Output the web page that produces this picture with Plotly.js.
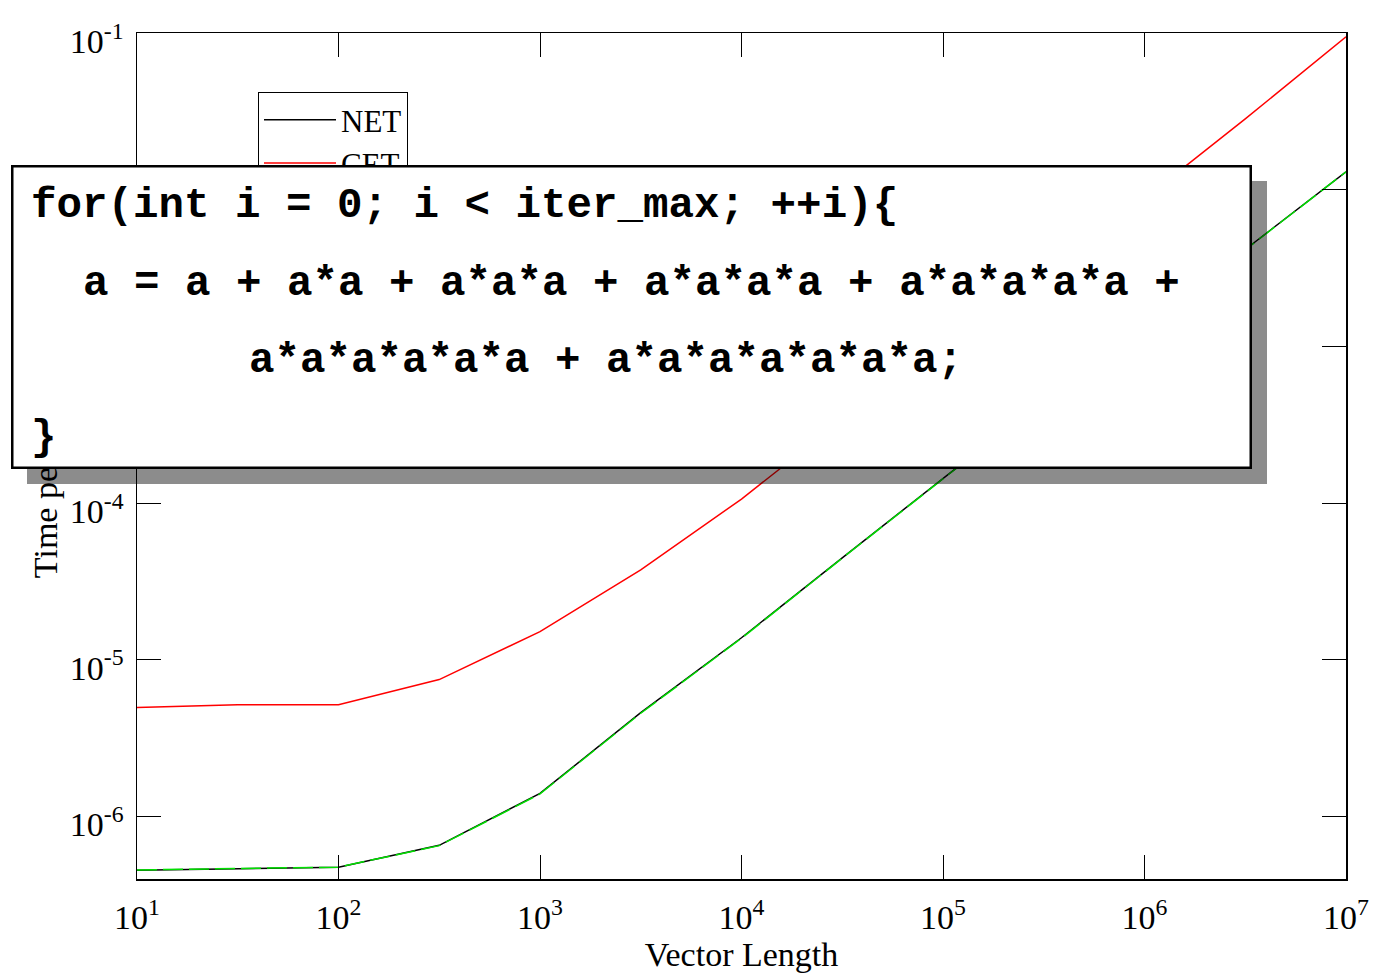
<!DOCTYPE html>
<html>
<head>
<meta charset="utf-8">
<script src="https://cdn.plot.ly/plotly-3.0.1.min.js"></script>
<style>
html,body{margin:0;padding:0;background:#fff;}
#chart{width:1383px;height:980px;}
</style>
</head>
<body>
<div id="chart"></div>
<script>
// ---- data ----
const vectorLength = [10, 31.6, 100, 316, 1000, 3162, 10000, 31623, 100000, 316228, 1000000, 3162278, 10000000];
const netTime = [4.53e-7, 4.62e-7, 4.73e-7, 6.53e-7, 1.40e-6, 4.59e-6, 1.38e-5, 4.47e-5, 1.44e-4, 4.59e-4, 1.40e-3, 4.15e-3, 1.30e-2];
const cetTime = [4.95e-6, 5.16e-6, 5.16e-6, 7.46e-6, 1.51e-5, 3.74e-5, 1.06e-4, 3.40e-4, 1.06e-3, 3.09e-3, 8.77e-3, 2.83e-2, 9.45e-2];
const thirdTime = [4.55e-7, 4.63e-7, 4.74e-7, 6.50e-7, 1.39e-6, 4.55e-6, 1.37e-5, 4.45e-5, 1.43e-4, 4.57e-4, 1.39e-3, 4.13e-3, 1.30e-2];
const seriesNames = ["NET", "CET", "C"];
const xTickVals = [1e1, 1e2, 1e3, 1e4, 1e5, 1e6, 1e7];
const xTickText = ["10<sup>1</sup>", "10<sup>2</sup>", "10<sup>3</sup>", "10<sup>4</sup>", "10<sup>5</sup>", "10<sup>6</sup>", "10<sup>7</sup>"];
const yTickVals = [1e-6, 1e-5, 1e-4, 1e-3, 1e-2, 1e-1];
const yTickText = ["10<sup>-6</sup>", "10<sup>-5</sup>", "10<sup>-4</sup>", "10<sup>-3</sup>", "10<sup>-2</sup>", "10<sup>-1</sup>"];
const codeLines = [
  "for(int i = 0; i &lt; iter_max; ++i){",
  "a = a + a*a + a*a*a + a*a*a*a + a*a*a*a*a +",
  "a*a*a*a*a*a + a*a*a*a*a*a*a;",
  "}"
];
const xTitle = "Vector Length";
const yTitle = "Time per iteration";

// ---- geometry helpers (pixel -> paper) ----
const L = 137, R = 1346, T = 33, B = 879;
const px = v => (v - L) / (R - L);
const py = v => (B - v) / (B - T);

const serif = "Liberation Serif, Times New Roman, serif";
const mono = "Liberation Mono, Courier New, monospace";

const traces = [
  {x: vectorLength, y: netTime, name: seriesNames[0], mode: "lines",
   line: {color: "#000000", width: 1.5}},
  {x: vectorLength, y: cetTime, name: seriesNames[1], mode: "lines",
   line: {color: "#ff0000", width: 1.5}},
  {x: vectorLength, y: thirdTime, name: seriesNames[2], mode: "lines",
   line: {color: "#00e000", width: 1.5, dash: "20px,6px"}}
];

const annotations = [
  // shadow
  {xref: "paper", yref: "paper", x: px(27), y: py(181), xanchor: "left", yanchor: "top",
   text: " ", showarrow: false, width: 1240, height: 303, borderpad: 0,
   bgcolor: "rgba(0,0,0,0.45)", borderwidth: 0},
  // box
  {xref: "paper", yref: "paper", x: px(11), y: py(165), xanchor: "left", yanchor: "top",
   text: " ", showarrow: false, width: 1236, height: 299, borderpad: 0,
   bgcolor: "#ffffff", bordercolor: "#000000", borderwidth: 2.5}
];
const lineX = [30, 82, 248, 30];
const lineY = [206, 284, 361, 438];
codeLines.forEach((t, i) => {
  annotations.push({xref: "paper", yref: "paper", x: px(lineX[i]), y: py(lineY[i]),
    xanchor: "left", yanchor: "middle", text: "<b>" + t + "</b>", showarrow: false,
    font: {family: mono, size: 42.5, color: "#000"}, borderpad: 0});
});

const layout = {
  width: 1383, height: 980,
  margin: {l: L, r: 1383 - R, t: T, b: 980 - B, pad: 0},
  paper_bgcolor: "#fff", plot_bgcolor: "#fff",
  font: {family: serif, size: 34, color: "#000"},
  showlegend: true,
  legend: {x: px(258), y: py(92), xanchor: "left", yanchor: "top",
    bgcolor: "#fff", bordercolor: "#000", borderwidth: 1, itemwidth: 72,
    font: {family: serif, size: 31, color: "#000"}, tracegroupgap: 0},
  xaxis: {type: "log", range: [1, 7], tickvals: xTickVals, ticktext: xTickText,
    ticks: "inside", ticklen: 24, tickwidth: 1, tickcolor: "#000",
    showline: true, linecolor: "#000", linewidth: 1.5, mirror: "ticks",
    showgrid: false, zeroline: false, ticklabelstandoff: 8,
    tickfont: {family: serif, size: 34, color: "#000"},
    title: {text: xTitle, font: {family: serif, size: 34, color: "#000"}, standoff: 6}},
  yaxis: {type: "log", range: [-6.40, -1.0], tickvals: yTickVals, ticktext: yTickText,
    ticks: "inside", ticklen: 24, tickwidth: 1, tickcolor: "#000",
    showline: true, linecolor: "#000", linewidth: 1.5, mirror: "ticks",
    showgrid: false, zeroline: false, ticklabelstandoff: 5, ticklabelshift: 8,
    tickfont: {family: serif, size: 34, color: "#000"},
    title: {text: yTitle, font: {family: serif, size: 34, color: "#000"}, standoff: 2}},
  annotations: annotations
};

Plotly.newPlot("chart", traces, layout, {displayModeBar: false, staticPlot: true});
</script>
</body>
</html>
